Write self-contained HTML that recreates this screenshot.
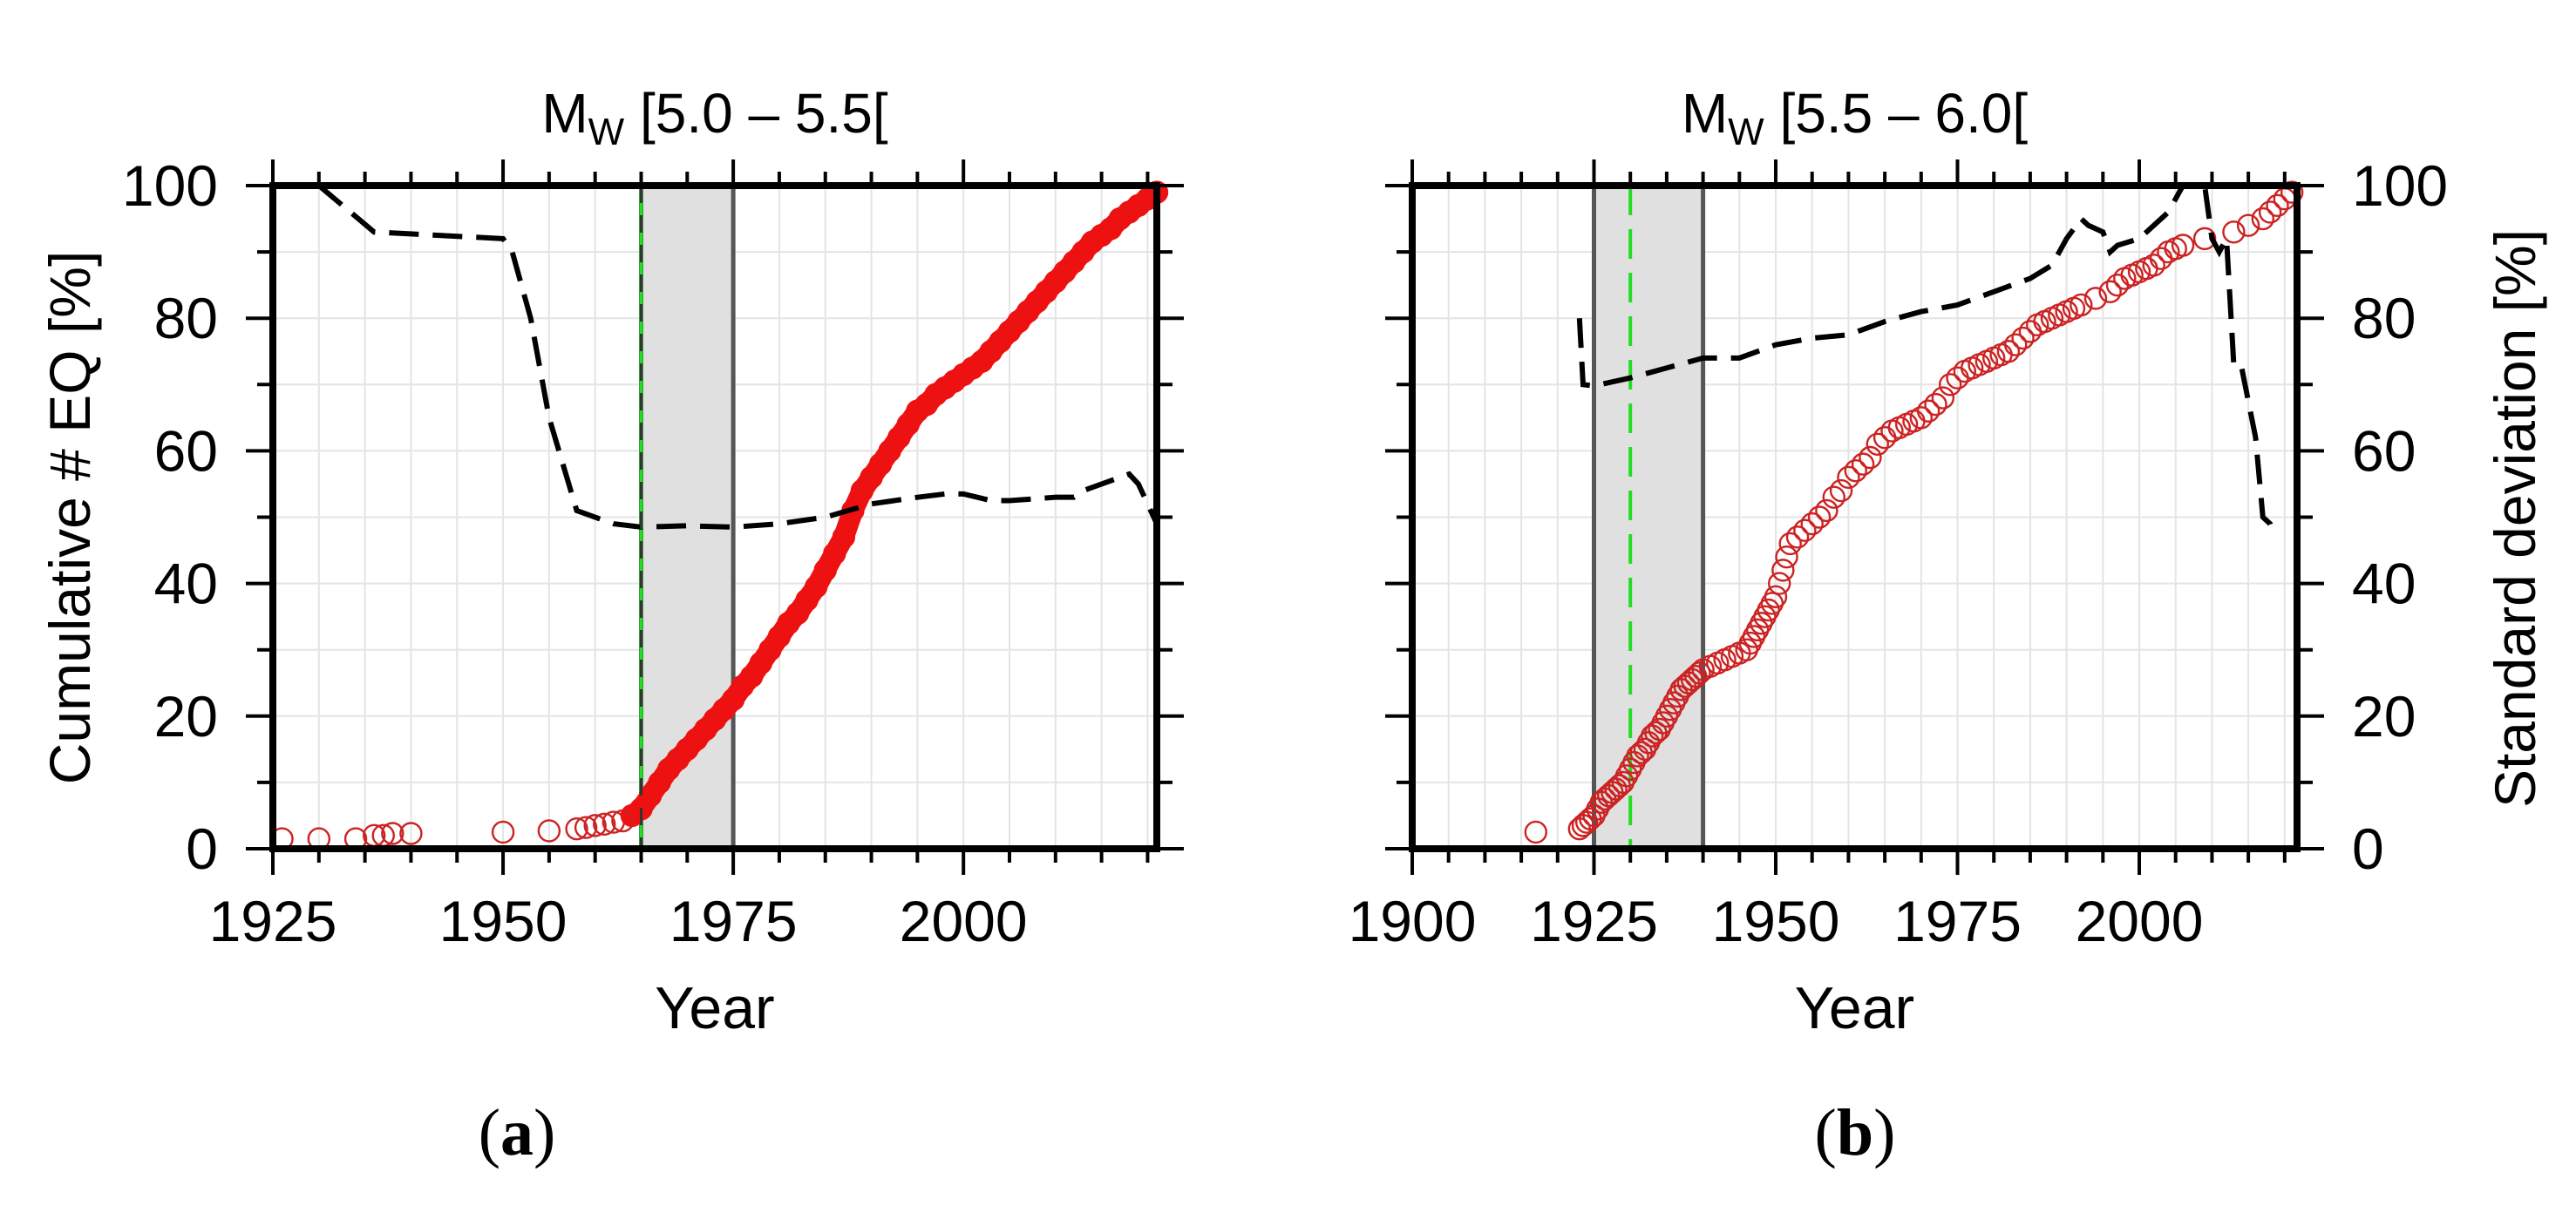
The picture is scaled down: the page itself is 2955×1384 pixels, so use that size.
<!DOCTYPE html>
<html><head><meta charset="utf-8">
<style>
html,body{margin:0;padding:0;background:#fff;}
svg{display:block;}
text{font-family:"Liberation Sans",sans-serif;fill:#000;}
</style></head>
<body>
<svg id="fig" width="2955" height="1384" viewBox="0 0 2955 1384" xmlns="http://www.w3.org/2000/svg">
<rect width="2955" height="1384" fill="#fff"/>
</svg>
<script>
// ---------- Panel (a) data ----------
const aYears = [1926,1930,1934,1936,1937,1938,1940,1950,1955,1958,1959,1960,1961,1962,1963,1964,1965,1966,1967,1968,1969,1970,1971,1972,1973,1974,1975,1976,1977,1978,1979,1980,1981,1982,1983,1984,1985,1986,1987,1988,1989,1990,1991,1992,1993,1994,1995,1996,1997,1998,1999,2000,2001,2002,2003,2004,2005,2006,2007,2008,2009,2010,2011,2012,2013,2014,2015,2016,2017,2018,2019,2020,2021];
const aCum = [1.5,1.5,1.5,2,2,2.3,2.3,2.5,2.7,3,3.2,3.5,3.7,4,4.2,5,6,8,10,12,13.5,15,16.5,18,19.5,21,22.5,24.5,26,28,30,32,34,35.5,37.5,39.5,42,44.5,47,51,54,56,58,60,62,64,66,67,68.5,69.5,70.5,71.5,72.5,73.5,75,76.5,78,79.5,81,82.5,84,85.5,87,88.5,90,91.5,92.5,93.5,95,96,97,98,99];
const aStdYears = [1930,1936,1950,1951,1953,1955,1958,1962,1965,1970,1975,1980,1985,1990,1995,1998,2000,2003,2005,2010,2012,2013,2016,2018,2019,2020,2021];
const aStd = [100,93,92,90,80,65,51,49,48.5,48.7,48.5,49,50,52,53,53.5,53.5,52.5,52.5,53,53,54,55.5,56.5,55,52,49];
const aTicks = [1925,1950,1975,2000];
// ---------- Panel (b) data ----------
const bYears = [1917,1923,1923.5,1924,1924.5,1925,1925.5,1926,1926.5,1927,1927.5,1928,1928.5,1929,1929.5,1930,1930.5,1931,1931.5,1932,1932.5,1933,1933.5,1934,1934.5,1935,1935.5,1936,1936.5,1937,1937.5,1938,1938.5,1939,1939.5,1940,1941,1942,1943,1944,1945,1946,1946.5,1947,1947.5,1948,1948.5,1949,1949.5,1950,1950.5,1951,1951.5,1952,1953,1954,1955,1956,1957,1958,1959,1960,1961,1962,1963,1964,1965,1966,1967,1968,1969,1970,1971,1972,1973,1974,1975,1976,1977,1978,1979,1980,1981,1982,1983,1984,1985,1986,1987,1988,1989,1990,1991,1992,1994,1996,1997,1998,1999,2000,2001,2002,2003,2004,2005,2006,2009,2013,2015,2017,2018,2019,2020,2021];
const bCum = [2.5,3,3.5,4,4.5,5,6,7,7.5,8,8.5,9,9.5,10,11,12,13,14,14.5,15,16,17,17.5,18,19,20,21,22,23,24,24.5,25,25.5,26,26.5,27,27.5,28,28.5,29,29.5,30,31,32,33,34,35,36,37,38,40,42,44,46,47,48,49,50,51,53,54,56,57,58,59,61,62,63,63.5,64,64.5,65,66,67,68,70,71,72,72.5,73,73.5,74,74.5,75,76,77,78,79,79.5,80,80.5,81,81.5,82,83,84,85,86,86.5,87,87.5,88,89,90,90.5,91,92,93,94,95,96,97,98,99];
const bStdYears = [1923,1923.5,1925,1930,1935,1940,1945,1950,1955,1960,1965,1970,1975,1980,1985,1988,1990,1992,1993,1995,1996,1997,2000,2004,2006,2009,2010,2011,2012,2013,2014,2016,2017,2018,2018.5];
const bStd = [80,70,69.8,71,72.5,74,74,76,77,77.5,79.5,81,82,84,86,88,92,95,94,93,90,91,92,96,100,100,92,90,92,73,73,62,50,49,47];
const bTicks = [1900,1925,1950,1975,2000];
const yTicks = [0,20,40,60,80,100];

const NS = "http://www.w3.org/2000/svg";
const svg = document.getElementById('fig');
function mk(tag, attrs, parent){
  const e = document.createElementNS(NS, tag);
  for (const k in attrs) e.setAttribute(k, attrs[k]);
  (parent||svg).appendChild(e);
  return e;
}
const Y0 = 974, Y1 = 213;

function panel(cfg){
  const g = mk('g', {});
  
  
  const sx = v => cfg.x0 + (v - cfg.d0) / (cfg.d1 - cfg.d0) * (cfg.x1 - cfg.x0);
  const sy = v => Y0 - v / 100 * (Y0 - Y1);
  for (let yr = Math.ceil(cfg.d0/5)*5; yr < cfg.d1; yr += 5){
    const l = mk('line', {x1:sx(yr), x2:sx(yr), y1:Y1, y2:Y0, stroke:'#e4e4e4', 'stroke-width':2}, g);
    
    
  }
  for (let v = 10; v < 100; v += 10){
    const l = mk('line', {x1:cfg.x0, x2:cfg.x1, y1:sy(v), y2:sy(v), stroke:'#e4e4e4', 'stroke-width':2}, g);
    
    
  }
  const sh = mk('rect', {x:sx(cfg.s0), y:Y1, width:sx(cfg.s1)-sx(cfg.s0), height:Y0-Y1, fill:'#e0e0e0', stroke:'#555', 'stroke-width':5}, g);
  
  
  const gl = mk('line', {x1:sx(cfg.green), x2:sx(cfg.green), y1:Y1, y2:Y0, stroke:'#22dd22', 'stroke-width':4}, g);
  if (cfg.greenDash) gl.setAttribute('stroke-dasharray', '34 16');
  
  
  if (cfg.band){
    const pts = [];
    cfg.xs.forEach((x,i)=>{ if (x >= cfg.band) pts.push(sx(x)+','+sy(cfg.ys[i])); });
    const b = mk('polyline', {points:pts.join(' '), fill:'none', stroke:'#ee1111', 'stroke-width':24, 'stroke-linejoin':'round', 'stroke-linecap':'round'}, g);
    
    
  }
  cfg.xs.forEach((x,i)=>{
    const c = mk('circle', {cx:sx(x), cy:sy(cfg.ys[i]), r:12, fill:'none', stroke:(cfg.band && x>=cfg.band)?'#ee1111':'#cc2222', 'stroke-width':2.4}, g);
    
    
  });
  const sp = cfg.sxs.map((x,i)=> sx(x)+','+sy(cfg.sys[i])).join(' ');
  const sl = mk('polyline', {points:sp, fill:'none', stroke:'#000', 'stroke-width':6, 'stroke-dasharray':'34 16'}, g);
  
  
  if (cfg.stdVert){
    const v = mk('line', {x1:sx(cfg.green), x2:sx(cfg.green), y1:Y1, y2:Y0, stroke:'#333', 'stroke-width':3, 'stroke-dasharray':'20 14'}, g);
    
    
  }
  for (let yr = Math.ceil(cfg.d0/5)*5; yr <= cfg.d1; yr += 5){
    const major = cfg.ticks.includes(yr);
    const L = major ? 30 : 16;
    mk('line', {x1:sx(yr), x2:sx(yr), y1:Y0, y2:Y0+L, stroke:'#000', 'stroke-width':4}, g);
    mk('line', {x1:sx(yr), x2:sx(yr), y1:Y1, y2:Y1-L, stroke:'#000', 'stroke-width':4}, g);
  }
  for (let v = 0; v <= 100; v += 10){
    const L = v % 20 === 0 ? 31 : 18;
    mk('line', {x1:cfg.x0-L, x2:cfg.x0, y1:sy(v), y2:sy(v), stroke:'#000', 'stroke-width':4}, g);
    mk('line', {x1:cfg.x1, x2:cfg.x1+L, y1:sy(v), y2:sy(v), stroke:'#000', 'stroke-width':4}, g);
  }
  const fr = mk('rect', {x:cfg.x0, y:Y1, width:cfg.x1-cfg.x0, height:Y0-Y1, fill:'none', stroke:'#000', 'stroke-width':8}, g);
  
  
  cfg.ticks.forEach(t=>{
    const tx = mk('text', {x:sx(t), y:1080, 'font-size':66, 'text-anchor':'middle'}, g);
    tx.textContent = t;
    
    
  });
  yTicks.forEach(v=>{
    const tx = cfg.yLeft
      ? mk('text', {x:cfg.x0-63, y:sy(v)+23, 'font-size':66, 'text-anchor':'end'}, g)
      : mk('text', {x:cfg.x1+63, y:sy(v)+23, 'font-size':66, 'text-anchor':'start'}, g);
    tx.textContent = v;
    
    
  });
  const cx = (cfg.x0 + cfg.x1) / 2;
  const xt = mk('text', {x:cx, y:1180, 'font-size':68, 'text-anchor':'middle'}, g);
  xt.textContent = 'Year';
  
  
  const tt = mk('text', {x:cx, y:152, 'font-size':64, 'text-anchor':'middle'}, g);
  tt.innerHTML = 'M<tspan font-size="44" dy="14">W</tspan><tspan dy="-14"> ' + cfg.title + '</tspan>';
  
  
  const lab = mk('text', {x:cfg.labX, y:1325, 'font-size':76, 'text-anchor':'middle', style:'font-family:"Liberation Serif",serif'}, g);
  lab.innerHTML = '(<tspan font-weight="bold">' + cfg.letter + '</tspan>)';
  
  
}

panel({name:'panel-a', x0:313, x1:1327, d0:1925, d1:2021, s0:1965, s1:1975, green:1965, greenDash:false, stdVert:true,
  xs:aYears, ys:aCum, band:1964, sxs:aStdYears, sys:aStd, ticks:aTicks, yLeft:true, title:'[5.0 – 5.5[', letter:'a', labX:593});
panel({name:'panel-b', x0:1620, x1:2635, d0:1900, d1:2021.7, s0:1925, s1:1940, green:1930, greenDash:true, stdVert:false,
  xs:bYears, ys:bCum, band:null, sxs:bStdYears, sys:bStd, ticks:bTicks, yLeft:false, title:'[5.5 – 6.0[', letter:'b', labX:2128});

const yl = mk('text', {x:0, y:0, 'font-size':66, 'text-anchor':'middle', transform:'translate(103,594) rotate(-90)'});
yl.textContent = 'Cumulative # EQ [%]';


const yr = mk('text', {x:0, y:0, 'font-size':66, 'text-anchor':'middle', transform:'translate(2908,595) rotate(-90)'});
yr.textContent = 'Standard deviation [%]';


</script>
</body></html>
